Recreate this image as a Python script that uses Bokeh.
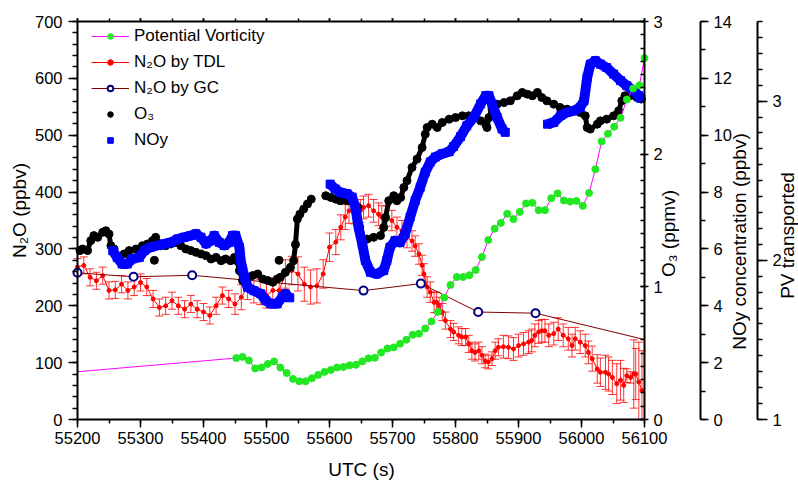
import numpy as np
from bokeh.plotting import figure
from bokeh.models import (Range1d, LinearAxis, SingleIntervalTicker,
                          Whisker, TeeHead, ColumnDataSource, Legend, LegendItem, Label)
from bokeh.embed import file_html
from bokeh.resources import INLINE

FONT = "Liberation Sans"

# ---------------- data ----------------
# Potential vorticity (PV units, right-most axis); first entry = where the line enters
pv_t = [55200, 55452, 55462, 55472, 55482, 55492, 55502, 55512, 55522, 55532, 55542,
        55552, 55562, 55572, 55582, 55592, 55602, 55612, 55622, 55632, 55642,
        55652, 55662, 55672, 55682, 55692, 55702, 55712, 55722, 55732, 55742,
        55752, 55762, 55772, 55782, 55792, 55802, 55812, 55822, 55832, 55842,
        55852, 55862, 55872, 55882, 55892, 55902, 55912, 55922, 55932, 55942,
        55952, 55962, 55972, 55982, 55992, 56002, 56012, 56022, 56032, 56042,
        56052, 56062, 56072, 56082, 56092, 56100]
pv_v = [1.300, 1.386, 1.393, 1.371, 1.321, 1.327, 1.349, 1.365, 1.326, 1.292, 1.255,
        1.240, 1.240, 1.259, 1.280, 1.299, 1.311, 1.327, 1.330, 1.340, 1.344,
        1.365, 1.384, 1.388, 1.421, 1.446, 1.453, 1.476, 1.501, 1.532, 1.539,
        1.572, 1.616, 1.676, 1.766, 1.845, 1.895, 1.895, 1.906, 1.939, 2.021,
        2.127, 2.198, 2.235, 2.292, 2.259, 2.304, 2.357, 2.361, 2.315, 2.315,
        2.390, 2.420, 2.376, 2.369, 2.373, 2.342, 2.423, 2.572, 2.747, 2.795,
        2.839, 2.895, 3.010, 3.079, 3.100, 3.270]

# N2O by TDL (ppbv) with error
tdl_t = [55200, 55210, 55220, 55230, 55240, 55250, 55260, 55270, 55280, 55290,
         55300, 55310, 55320, 55330, 55340, 55350, 55360, 55370, 55380, 55390,
         55400, 55410, 55420, 55430, 55440, 55450, 55460, 55470, 55480, 55490,
         55500, 55510, 55520, 55530, 55540, 55550, 55560, 55570, 55580, 55590,
         55600, 55610, 55618, 55625, 55631, 55639, 55649, 55654, 55662, 55670,
         55678, 55683, 55691, 55699, 55707, 55715, 55723, 55731, 55736, 55742,
         55747, 55750, 55755, 55760, 55766, 55770, 55774, 55779, 55784, 55792,
         55797, 55805, 55810, 55816, 55821, 55826, 55831, 55837, 55842, 55847,
         55852, 55858, 55863, 55868, 55876, 55884, 55892, 55900, 55908, 55916,
         55921, 55926, 55932, 55937, 55942, 55948, 55956, 55963, 55971, 55979,
         55985, 55990, 55998, 56006, 56011, 56017, 56025, 56030, 56038, 56043,
         56049, 56056, 56062, 56067, 56072, 56078, 56083, 56086, 56091, 56096]
tdl_v = [268, 271, 250, 244, 253, 227, 228, 238, 227, 233,
         241, 233, 212, 197, 200, 209, 200, 194, 203, 194,
         189, 183, 200, 218, 212, 203, 215, 233, 227, 224,
         218, 227, 227, 256, 262, 256, 238, 233, 235, 256,
         303, 312, 338, 356, 367, 364, 367, 373, 376, 367,
         361, 356, 358, 350, 338, 332, 320, 314, 305, 291,
         271, 256, 233, 224, 206, 206, 200, 189, 174, 159,
         154, 148, 145, 145, 133, 121, 118, 121, 113, 103,
         101, 107, 121, 127, 128, 127, 124, 130, 133, 136,
         139, 148, 154, 156, 156, 148, 151, 159, 148, 142,
         130, 142, 136, 130, 118, 107, 89, 83, 83, 80,
         74, 63, 69, 60, 77, 74, 80, 80, 66, 51]
tdl_e = [15, 15, 15, 15, 15, 15, 15, 15, 15, 15,
         15, 15, 15, 15, 15, 15, 15, 15, 15, 15,
         15, 15, 15, 15, 15, 18, 22, 22, 22, 22,
         22, 22, 22, 25, 25, 30, 30, 30, 30, 25,
         25, 22, 22, 22, 22, 20, 20, 20, 20, 20,
         20, 20, 18, 18, 18, 18, 18, 18, 18, 18,
         18, 18, 18, 18, 18, 18, 15, 15, 15, 15,
         15, 15, 15, 15, 15, 15, 15, 15, 15, 12,
         12, 12, 15, 15, 20, 20, 20, 20, 20, 20,
         20, 20, 20, 20, 20, 20, 20, 20, 20, 20,
         20, 20, 20, 20, 20, 22, 25, 25, 30, 30,
         30, 35, 35, 30, 12, 10, 60, 45, 70, 70]

# N2O by GC (ppbv); the last entry is where the line meets the right edge
gc_t = [55200, 55289, 55382, 55654, 55745, 55836, 55927, 56100]
gc_v = [258, 251, 253.6, 226.7, 239, 189, 187, 140.6]

# O3 (ppmv); NaN marks gaps in the trace
nan = np.nan
o3_t = [55204, 55208, 55216, 55221, 55226, 55232, 55240, 55245, 55250, 55253,
        55258, 55266, 55274, 55282, 55293, 55303, 55311, 55319, 55320, 55322,
        55323, 55324, 55332, 55340, 55348, 55356, 55364, 55372, 55380, 55388,
        55396, 55404, 55412, 55420, 55428, 55435, 55443, 55449, 55453, 55457,
        55462, 55470, 55478, 55486, 55494, 55502, 55510, 55517, 55519, 55520,
        55521, 55522, 55530, 55538, 55543, 55546, 55549, 55553, 55559, 55565,
        55571, 55580, 55594, 55602, 55610, 55617, 55628, 55639, 55645, 55648,
        55652, 55660, 55670, 55681, 55686, 55689, 55694, 55702, 55707, 55713,
        55718, 55723, 55731, 55739, 55747, 55752, 55755, 55763, 55771, 55779,
        55790, 55800, 55811, 55821, 55829, 55840, 55848, 55850, 55853, 55858,
        55866, 55877, 55887, 55898, 55906, 55914, 55922, 55930, 55937, 55945,
        55956, 55966, 55977, 55988, 55998, 56006, 56009, 56014, 56025, 56030,
        56040, 56051, 56059, 56064, 56069, 56077, 56088, 56095]
o3_v = [1.273, 1.285, 1.273, 1.348, 1.386, 1.373, 1.411, 1.423, 1.398, 1.310,
        1.285, 1.222, 1.248, 1.273, 1.285, 1.310, 1.323, 1.348, nan, 1.200,
        nan, 1.373, 1.310, 1.310, 1.323, 1.335, 1.310, 1.285, 1.273, 1.260,
        1.248, 1.235, 1.210, 1.222, 1.197, 1.210, 1.197, 1.222, 1.197, 1.122,
        1.047, 1.060, 1.085, 1.097, 1.059, 1.047, 1.034, 1.059, nan, 1.200,
        nan, 1.072, 1.109, 1.147, 1.197, 1.320, 1.511, 1.548, 1.586, 1.624,
        1.661, nan, 1.687, 1.674, 1.661, 1.649, 1.649, 1.636, 1.600, 1.450,
        1.340, 1.360, 1.373, 1.386, 1.448, 1.523, 1.649, 1.687, 1.649, 1.674,
        1.749, 1.800, 1.900, 1.963, 2.050, 2.151, 2.201, 2.226, 2.201, 2.239,
        2.264, 2.276, 2.289, 2.289, 2.276, 2.251, 2.226, 2.201, 2.276, 2.339,
        2.377, 2.389, 2.402, 2.440, 2.465, 2.452, 2.440, 2.465, 2.427, 2.402,
        2.377, 2.352, 2.339, 2.327, 2.314, 2.289, 2.201, 2.189, 2.226, 2.251,
        2.264, 2.289, 2.327, 2.402, 2.440, 2.440, 2.427, 2.415]

# NOy (ppbv); NaN marks gaps
noy_t = [55256, 55263, 55271, 55279, 55287, 55298, 55306, 55316, 55327, 55338,
         55348, 55359, 55369, 55380, 55388, 55396, 55404, 55412, 55417, 55425,
         55433, 55441, 55446, 55451, 55457, 55459, 55465, 55470, 55480, 55491,
         55499, 55507, 55517, 55525, 55530, 55537, 55570,
         55601, 55609, 55617, 55628, 55636, 55641, 55646, 55652, 55657, 55665,
         55675, 55686, 55691, 55696, 55704, 55712, 55720, 55728, 55736, 55744,
         55752, 55760, 55768, 55779, 55790, 55797, 55808, 55818, 55829, 55840,
         55848, 55853, 55858, 55866, 55874, 55879, 55910,
         55946, 55956, 55967, 55977, 55988, 55998, 56004, 56009, 56014, 56022,
         56030, 56040, 56051, 56062, 56072, 56083, 56091, 56094]
noy_v = [5.94, 5.70, 5.47, 5.47, 5.65, 5.70, 5.94, 6.06, 6.12, 6.18,
         6.23, 6.35, 6.41, 6.47, 6.53, 6.41, 6.18, 6.29, 6.47, 6.23,
         6.12, 6.23, 6.47, 6.47, 6.06, 5.59, 5.00, 4.65, 4.53, 4.42,
         4.18, 4.07, 4.07, 4.30, 4.42, 4.28, nan,
         8.28, 8.11, 7.99, 7.94, 7.82, 7.47, 6.77, 6.18, 5.59, 5.18,
         5.12, 5.24, 5.59, 6.06, 6.29, 6.23, 6.53, 7.12, 7.70, 8.17,
         8.70, 9.06, 9.23, 9.35, 9.42, 9.60, 9.95, 10.33, 10.63, 11.10,
         11.39, 11.39, 11.10, 10.63, 10.22, 10.10, nan,
         10.39, 10.45, 10.69, 10.80, 10.86, 10.98, 11.21, 12.03, 12.50, 12.62,
         12.50, 12.38, 12.15, 11.92, 11.74, 11.56, 11.39, 11.30]

# ---------------- layout (pixels) ----------------
W, H = 798, 480
LEFT, RIGHT = 77, 644          # data area, horizontally
TOP, BOTTOM = 21, 419          # data area, vertically
NOY_AXIS_PX, PV_AXIS_PX = 700, 757
X0, X1 = 55200, 56100
px_per_s = (RIGHT - LEFT) / (X1 - X0)


def x_at(px):
    return X0 + (px - LEFT) / px_per_s


def y_at(py, vmin, vmax):
    return vmin + (BOTTOM - py) * (vmax - vmin) / (BOTTOM - TOP)


def full_range(vmin, vmax):
    return Range1d(y_at(H, vmin, vmax), y_at(0, vmin, vmax))


# the frame covers the whole canvas; every axis is placed inside it
p = figure(width=W, height=H, output_backend="svg", toolbar_location=None,
           x_range=Range1d(x_at(0), x_at(W)), y_range=full_range(0, 700),
           min_border_left=0, min_border_right=0, min_border_top=0, min_border_bottom=0)
p.extra_y_ranges = {"o3": full_range(0, 3), "noy": full_range(0, 14), "pv": full_range(1, 3.5)}
p.grid.visible = False
p.outline_line_color = None
p.background_fill_color = "white"
p.border_fill_color = "white"


def style(ax):
    ax.axis_line_width = 2
    ax.axis_line_color = "black"
    ax.major_tick_line_width = 1.5
    ax.minor_tick_line_width = 1.5
    ax.major_tick_line_color = "black"
    ax.minor_tick_line_color = "black"
    ax.major_label_text_font = FONT
    ax.major_label_text_font_size = "16.5px"
    ax.major_label_text_color = "black"


xa = p.xaxis[0]
style(xa)
xa.fixed_location = 0
xa.bounds = (X0, X1)
xa.ticker = SingleIntervalTicker(interval=100, num_minor_ticks=2)
xa.major_tick_out, xa.major_tick_in = 8, 0
xa.minor_tick_out, xa.minor_tick_in = 4, 0
xa.major_label_standoff = 4

ya = p.yaxis[0]
style(ya)
ya.fixed_location = X0
ya.bounds = (0, 700)
ya.ticker = SingleIntervalTicker(interval=100, num_minor_ticks=5)
ya.major_tick_out, ya.major_tick_in = 9, 0
ya.minor_tick_out, ya.minor_tick_in = 5, 0
ya.major_label_standoff = 6

top = LinearAxis(ticker=SingleIntervalTicker(interval=100, num_minor_ticks=2),
                 bounds=(X0, X1), fixed_location=700)
style(top)
top.major_tick_out, top.major_tick_in = 3, 0
top.minor_tick_out, top.minor_tick_in = 3, 0
top.major_label_text_font_size = "1px"
top.major_label_standoff = 0
p.add_layout(top, "above")


def right_axis(name, loc, bounds, interval, minor, maj_out, maj_in, min_out, min_in):
    ax = LinearAxis(y_range_name=name, fixed_location=loc, bounds=bounds,
                    ticker=SingleIntervalTicker(interval=interval, num_minor_ticks=minor))
    style(ax)
    ax.major_tick_out, ax.major_tick_in = maj_out, maj_in
    ax.minor_tick_out, ax.minor_tick_in = min_out, min_in
    ax.major_label_standoff = 5
    p.add_layout(ax, "right")
    return ax


right_axis("o3", X1, (0, 3), 1, 10, 4, 4, 0, 4)
right_axis("noy", x_at(NOY_AXIS_PX), (0, 14), 2, 2, 8, 0, 5, 0)
right_axis("pv", x_at(PV_AXIS_PX), (1, 3.5), 1, 10, 10, 0, 5, 0)

# axis titles (px position of the text centre, rotation)
titles = [("N₂O (ppbv)", 19, 210, 90), ("UTC (s)", 361, 468.5, 0),
          ("O₃ (ppmv)", 667.5, 233, 90), ("NOy concentration (ppbv)", 739, 241, 90),
          ("PV transported", 786.5, 235, 90)]
for txt, px, py, ang in titles:
    p.add_layout(Label(x=x_at(px), y=y_at(py, 0, 700), text=txt,
                       angle=ang, angle_units="deg", text_align="center",
                       text_baseline="middle", text_font=FONT, text_font_size="19px",
                       text_color="black"))

# ---------------- glyphs ----------------
tdl_src = ColumnDataSource(dict(t=tdl_t, v=tdl_v,
                                lo=[max(v - e, 0) for v, e in zip(tdl_v, tdl_e)],
                                hi=[v + e for v, e in zip(tdl_v, tdl_e)]))
wh = Whisker(source=tdl_src, base="t", upper="hi", lower="lo", dimension="height",
             line_color="#ff0000", line_width=1, line_alpha=0.8, level="underlay",
             upper_head=TeeHead(size=8, line_color="#ff0000", line_width=1, line_alpha=0.8),
             lower_head=TeeHead(size=8, line_color="#ff0000", line_width=1, line_alpha=0.8))
p.add_layout(wh)
tdl_line = p.line("t", "v", source=tdl_src, line_color="#ff0000", line_width=1)
tdl_pts = p.scatter("t", "v", source=tdl_src, size=4, color="#ff0000")

gc_line = p.line(gc_t, gc_v, line_color="#800000", line_width=1)
gc_pts = p.scatter(gc_t[:-1], gc_v[:-1], size=8, line_color="#000080", line_width=2,
                   fill_color="white")

o3_t_a = np.array(o3_t, dtype=float)
o3_v_a = np.array(o3_v, dtype=float)
p.line(o3_t_a, o3_v_a, y_range_name="o3", line_color="black", line_width=5)
o3_pts = p.scatter(o3_t_a, o3_v_a, y_range_name="o3", size=8, color="black")

noy_t_a = np.array(noy_t, dtype=float)
noy_v_a = np.array(noy_v, dtype=float)
p.line(noy_t_a, noy_v_a, y_range_name="noy", line_color="#0000ff", line_width=10,
       line_join="round")
noy_pts = p.scatter(noy_t_a, noy_v_a, y_range_name="noy", marker="square", size=8, color="#0000ff")

pv_line = p.line(pv_t, pv_v, y_range_name="pv", line_color="#ff00ff", line_width=1)
pv_pts = p.scatter(pv_t[1:], pv_v[1:], y_range_name="pv", size=7, color="#22e822")

# legend: 5 rows of 20 px with 6 px gaps, placed by its bottom-left corner
legend = Legend(items=[
    LegendItem(label="Potential Vorticity", renderers=[pv_line, pv_pts]),
    LegendItem(label="N₂O by TDL", renderers=[tdl_line, tdl_pts]),
    LegendItem(label="N₂O by GC", renderers=[gc_line, gc_pts]),
    LegendItem(label="O₃", renderers=[o3_pts]),
    LegendItem(label="NOy", renderers=[noy_pts]),
], location=(91, H - TOP - 129), margin=0, padding=5, spacing=6, glyph_width=38,
    glyph_height=14, label_height=20, label_standoff=5, label_text_font=FONT,
    label_text_font_size="17px", label_text_color="black", border_line_color=None,
    background_fill_alpha=0)
p.add_layout(legend)

open("out.html", "w").write(file_html(p, INLINE))
